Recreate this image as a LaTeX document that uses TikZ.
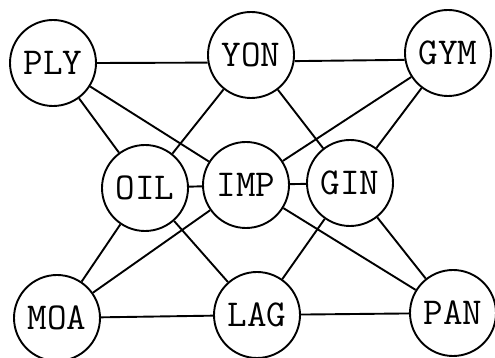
\documentclass[tikz,border=0pt]{standalone}
\usepackage{fontspec}
\begin{document}
\begin{tikzpicture}[x=1pt,y=1pt,
  vertex/.style={circle,draw,line width=1.9pt,minimum size=86pt,inner sep=0pt,
    font=\fontsize{38}{38}\selectfont\ttfamily},
  link/.style={line width=1.9pt}]
\useasboundingbox (0,0) rectangle (495,358);
% vertices (y measured from the bottom)
\node[vertex] (PLY) at (53,295) {PLY};
\node[vertex] (YON) at (251,303) {YON};
\node[vertex] (GYM) at (448,305) {GYM};
\node[vertex] (OIL) at (145,170) {OIL};
\node[vertex] (IMP) at (246,173) {IMP};
\node[vertex] (GIN) at (350,175) {GIN};
\node[vertex] (MOA) at (57,40) {MOA};
\node[vertex] (LAG) at (257,43) {LAG};
\node[vertex] (PAN) at (453,45) {PAN};
% edges: the top row runs level, a little below the centres
\draw[link] (PLY.east) -- (YON.190);
\draw[link] (YON.-8) -- (GYM.189);
\draw[link] (PLY) -- (OIL);
\draw[link] (PLY) -- (IMP);
\draw[link] (YON) -- (OIL);
\draw[link] (YON) -- (GIN);
\draw[link] (GYM) -- (IMP);
\draw[link] (GYM) -- (GIN);
\draw[link] (OIL) -- (IMP);
\draw[link] (IMP) -- (GIN);
\draw[link] (OIL) -- (MOA);
\draw[link] (OIL) -- (LAG);
\draw[link] (IMP) -- (MOA);
\draw[link] (IMP) -- (PAN);
\draw[link] (GIN) -- (LAG);
\draw[link] (GIN) -- (PAN);
\draw[link] (MOA) -- (LAG);
\draw[link] (LAG) -- (PAN);
\end{tikzpicture}
\end{document}
